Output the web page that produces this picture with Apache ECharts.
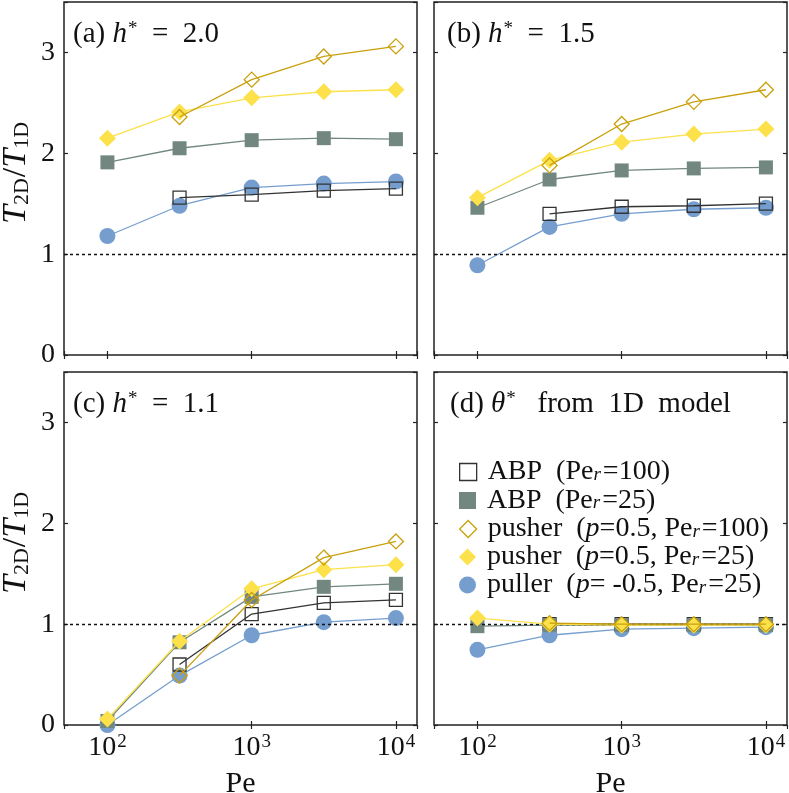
<!DOCTYPE html>
<html><head><meta charset="utf-8">
<script src="https://cdn.jsdelivr.net/npm/echarts@6/dist/echarts.min.js"></script>
<style>html,body{margin:0;padding:0;background:#fff}#c{width:789px;height:793px}</style>
</head><body><div id="c"></div>
<script>
// ---- data ----
const pe = [100, 316.2, 1000, 3162, 10000];
const panelLabels = ['(a)', '(b)', '(c)', '(d)'];
const panelHValues = ['2.0', '1.5', '1.1'];
const xTickExponents = [2, 3, 4];
const yTickLabels = ['0', '1', '2', '3'];
const seriesNames = ['ABP (Pe_r=100)', 'ABP (Pe_r=25)', 'pusher (p=0.5, Pe_r=100)', 'pusher (p=0.5, Pe_r=25)', 'puller (p=-0.5, Pe_r=25)'];

// panel (a) h*=2.0
const a_abp100 = [null, 1.56, 1.59, 1.63, 1.65];
const a_abp25 = [1.91, 2.05, 2.13, 2.15, 2.14];
const a_push100 = [null, 2.36, 2.73, 2.96, 3.06];
const a_push25 = [2.15, 2.41, 2.55, 2.61, 2.63];
const a_puller = [1.18, 1.48, 1.66, 1.70, 1.72];
// panel (b) h*=1.5
const b_abp100 = [null, 1.40, 1.47, 1.48, 1.50];
const b_abp25 = [1.46, 1.74, 1.83, 1.85, 1.86];
const b_push100 = [null, 1.88, 2.29, 2.51, 2.63];
const b_push25 = [1.56, 1.93, 2.11, 2.19, 2.24];
const b_puller = [0.89, 1.27, 1.40, 1.445, 1.46];
// panel (c) h*=1.1
const c_abp100 = [null, 0.60, 1.10, 1.21, 1.24];
const c_abp25 = [0.04, 0.82, 1.27, 1.37, 1.40];
const c_push100 = [null, 0.49, 1.24, 1.66, 1.82];
const c_push25 = [0.06, 0.83, 1.35, 1.54, 1.59];
const c_puller = [0.00, 0.49, 0.89, 1.02, 1.06];
// panel (d) theta* from 1D model
const d_abp100 = [null, 1.00, 1.00, 1.00, 1.00];
const d_abp25 = [0.98, 0.99, 0.99, 0.99, 0.99];
const d_push100 = [null, 1.01, 1.00, 1.00, 1.00];
const d_push25 = [1.06, 1.00, 0.99, 0.99, 0.99];
const d_puller = [0.745, 0.89, 0.95, 0.96, 0.97];

const panels = [
  [a_abp100, a_abp25, a_push100, a_push25, a_puller],
  [b_abp100, b_abp25, b_push100, b_push25, b_puller],
  [c_abp100, c_abp25, c_push100, c_push25, c_puller],
  [d_abp100, d_abp25, d_push100, d_push25, d_puller]
];

// ---- styles ----
const FONT = 'Liberation Serif';
const C_ABP100 = '#333333', C_ABP25 = '#72877f', C_P100 = '#c9a00c', C_P25 = '#fce14b', C_PUL = '#759ecf';
const styles = [
  {symbol: 'rect', size: 13, line: C_ABP100, fill: 'rgba(255,255,255,0)', border: C_ABP100, bw: 1.3, z: 3},
  {symbol: 'rect', size: 14, line: C_ABP25, fill: C_ABP25, border: C_ABP25, bw: 0, z: 4},
  {symbol: 'diamond', size: 15, line: C_P100, fill: 'rgba(255,255,255,0)', border: C_P100, bw: 1.3, z: 6},
  {symbol: 'diamond', size: 17, line: C_P25, fill: C_P25, border: C_P25, bw: 0, z: 5},
  {symbol: 'circle', size: 16, line: C_PUL, fill: C_PUL, border: C_PUL, bw: 0, z: 2}
];
const drawOrder = [4, 0, 1, 3, 2];

const grids = [
  {left: 64, top: 2, width: 353, height: 353},
  {left: 434, top: 2, width: 353, height: 353},
  {left: 64, top: 372, width: 353, height: 353},
  {left: 434, top: 372, width: 353, height: 353}
];
const titlePos = [[73, 20], [447, 20], [73, 390], [450, 390]];
const legendRowCenters = [470, 498.5, 527, 555, 583];

const base = {fontFamily: FONT, color: '#111', fontWeight: 'normal'};
const rich = {
  n: Object.assign({fontSize: 29}, base),
  i: Object.assign({fontSize: 29, fontStyle: 'italic'}, base),
  sup: Object.assign({fontSize: 19, verticalAlign: 'top', padding: [0, 0, 10, 1]}, base),
  xn: Object.assign({fontSize: 28}, base),
  T: Object.assign({fontSize: 34, fontStyle: 'italic'}, base),
  sl: Object.assign({fontSize: 34}, base),
  sub: Object.assign({fontSize: 22, verticalAlign: 'bottom', padding: [11, 1, 0, 0]}, base),
  ln: Object.assign({fontSize: 28, lineHeight: 24}, base),
  li: Object.assign({fontSize: 28, lineHeight: 24, fontStyle: 'italic'}, base),
  ls: Object.assign({fontSize: 19, lineHeight: 24, fontStyle: 'italic', verticalAlign: 'bottom', padding: [0, 2, 0, 0]}, base)
};

const xAxes = [], yAxes = [], series = [], titles = [];
grids.forEach((g, gi) => {
  const bottomRow = gi >= 2, leftCol = gi % 2 === 0;
  const xBase = {
    type: 'log', logBase: 10, min: 50, max: 14000, gridIndex: gi,
    axisLine: {show: false}, splitLine: {show: false},
    axisTick: {show: true, inside: true, length: 4, lineStyle: {color: '#222', width: 1.2}},
    minorTick: {show: false}
  };
  xAxes.push(Object.assign({}, xBase, {
    position: 'bottom',
    axisLabel: {
      show: bottomRow, margin: 8, color: '#111', rich: rich,
      showMinLabel: false, showMaxLabel: false,
      formatter: v => {
        const e = Math.log10(v), r = Math.round(e);
        if (Math.abs(e - r) < 1e-6 && xTickExponents.indexOf(r) >= 0) return '{xn|10}{sup|' + r + '}';
        return '';
      }
    },
    name: bottomRow ? 'Pe' : '', nameLocation: 'middle', nameGap: 44,
    nameTextStyle: {fontFamily: FONT, fontSize: 30, color: '#111'}
  }));
  xAxes.push(Object.assign({}, xBase, {position: 'top', axisLabel: {show: false}}));
  const yBase = {
    type: 'value', min: 0, max: 3.5, interval: 1, gridIndex: gi,
    axisLine: {show: false}, splitLine: {show: false},
    axisTick: {show: true, inside: true, length: 4, lineStyle: {color: '#222', width: 1.2}}
  };
  yAxes.push(Object.assign({}, yBase, {
    position: 'left',
    axisLabel: {
      show: leftCol, margin: 9, color: '#111', fontFamily: FONT, fontSize: 28,
      formatter: v => (Number.isInteger(v) && yTickLabels[v] !== undefined) ? yTickLabels[v] : ''
    },
    name: leftCol ? '{T|T}{sub|2D}{sl|/}{T|T}{sub|1D}' : '', nameLocation: 'middle', nameGap: 31,
    nameTextStyle: {rich: rich, padding: [0, 0, 0, 12]}
  }));
  yAxes.push(Object.assign({}, yBase, {position: 'right', axisLabel: {show: false}}));

  drawOrder.forEach((si, k) => {
    const st = styles[si];
    const vals = panels[gi][si];
    const s = {
      name: seriesNames[si], type: 'line',
      xAxisIndex: gi * 2, yAxisIndex: gi * 2,
      data: pe.map((x, j) => [x, vals[j]]).filter(p => p[1] !== null),
      symbol: st.symbol, symbolSize: st.size, z: st.z,
      lineStyle: {color: st.line, width: 1.3},
      itemStyle: {color: st.fill, borderColor: st.border, borderWidth: st.bw},
      emphasis: {disabled: true}, animation: false, clip: false
    };
    if (k === 0) {
      s.markLine = {
        silent: true, symbol: 'none', label: {show: false}, animation: false,
        lineStyle: {type: [3, 3], color: '#111', width: 1.4},
        data: [{yAxis: 1}]
      };
    }
    series.push(s);
  });

  const text = gi < 3
    ? '{n|' + panelLabels[gi] + ' }{i|h}{sup|*}{n|  =  ' + panelHValues[gi] + '}'
    : '{n|' + panelLabels[gi] + ' }{i|θ}{sup|*}{n|   from  1D  model}';
  titles.push({
    text: text, left: titlePos[gi][0], top: titlePos[gi][1], padding: 0,
    textStyle: {rich: rich, fontWeight: 'normal'}
  });
});

const legendRich = [
  '{ln|ABP  (Pe}{ls|r}{ln|=100)}',
  '{ln|ABP  (Pe}{ls|r}{ln|=25)}',
  '{ln|pusher  (}{li|p}{ln|=0.5, Pe}{ls|r}{ln|=100)}',
  '{ln|pusher  (}{li|p}{ln|=0.5, Pe}{ls|r}{ln|=25)}',
  '{ln|puller  (}{li|p}{ln|= -0.5, Pe}{ls|r}{ln|=25)}'
];

const legends = seriesNames.map((nm, i) => ({
  orient: 'vertical', left: 459, top: legendRowCenters[i] - 12, padding: 0,
  itemWidth: 17, itemHeight: 17, selectedMode: false,
  textStyle: {rich: rich, padding: [0, 0, 0, 6]},
  formatter: () => legendRich[i],
  data: [{
    name: nm, icon: styles[i].symbol,
    itemStyle: {color: styles[i].fill, borderColor: styles[i].border, borderWidth: styles[i].bw ? 1.3 : 0}
  }]
}));

const option = {
  backgroundColor: '#fff',
  animation: false,
  title: titles,
  grid: grids.map(g => Object.assign({show: true, borderColor: '#222', borderWidth: 1.5, backgroundColor: 'transparent', containLabel: false, outerBoundsMode: 'none'}, g)),
  xAxis: xAxes,
  yAxis: yAxes,
  legend: legends,
  series: series
};
echarts.init(document.getElementById('c')).setOption(option);
</script></body></html>
